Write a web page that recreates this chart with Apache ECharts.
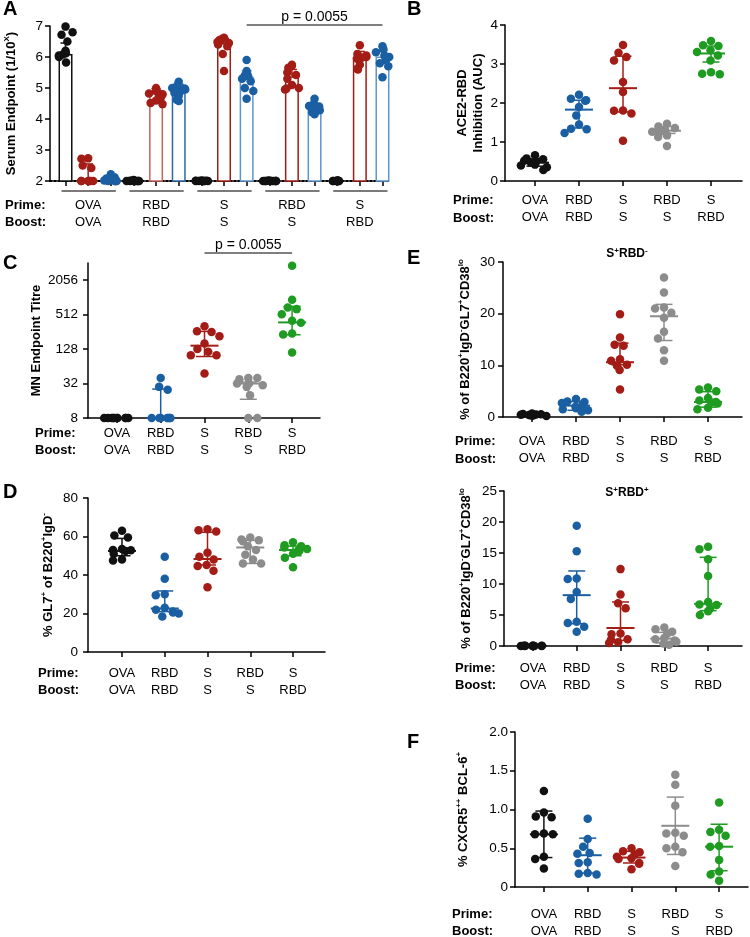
<!DOCTYPE html>
<html><head><meta charset="utf-8">
<script src="https://cdn.jsdelivr.net/npm/echarts@6/dist/echarts.min.js"></script>
<style>html,body{margin:0;padding:0;background:#fff}#c{width:750px;height:937px}</style>
</head><body><div id="c"></div>
<script>
const FONT = '"Liberation Sans", Arial, Helvetica, sans-serif';

// ---------- categories ----------
const primes = ['OVA', 'RBD', 'S', 'RBD', 'S'];
const boosts = ['OVA', 'RBD', 'S', 'S', 'RBD'];
const groupCats = ['OVA/OVA', 'RBD/RBD', 'S/S', 'RBD/S', 'S/RBD'];

// ---------- Panel A : serum endpoint (bars = mean, 3 per group) ----------
const aCats = ['g1-a','g1-b','g1-c','g2-a','g2-b','g2-c','g3-a','g3-b','g3-c','g4-a','g4-b','g4-c','g5-a','g5-b','g5-c'];
const aBars  = [6.1, 2.0, 2.05, 2.0, 4.84, 4.97, 2.0, 6.45, 5.37, 2.0, 5.38, 4.37, 2.0, 5.98, 6.02];
const aUpper = [6.45, 2.55, 2.12, 2.01, 4.98, 5.12, 2.01, 6.6, 5.55, 2.01, 5.6, 4.5, 2.01, 6.18, 6.2];
const aPoints = [
  [6.98, 6.8, 6.72, 6.5, 6.2, 6.12, 6.08, 6.05, 6.0, 5.82],
  [2.73, 2.72, 2.5, 2.42, 2.0, 2.0, 2.0, 2.0, 2.0, 2.0],
  [2.22, 2.12, 2.08, 2.05, 2.02, 2.0, 2.0, 2.0, 2.0, 2.0],
  [2.03, 2.02, 2.01, 2.0, 2.0, 2.0, 2.0, 2.0, 2.0, 2.0],
  [5.0, 4.9, 4.85, 4.82, 4.8, 4.75, 4.7, 4.6, 4.52, 4.48],
  [5.2, 5.1, 5.0, 4.98, 4.95, 4.9, 4.85, 4.75, 4.62, 4.58],
  [2.02, 2.01, 2.01, 2.0, 2.0, 2.0, 2.0, 2.0, 2.0, 2.0],
  [6.62, 6.58, 6.55, 6.52, 6.48, 6.45, 6.4, 6.35, 6.1, 5.55],
  [5.9, 5.55, 5.45, 5.4, 5.38, 5.3, 5.22, 5.0, 4.9, 4.65],
  [2.02, 2.01, 2.0, 2.0, 2.0, 2.0, 2.0, 2.0, 2.0, 2.0],
  [5.75, 5.72, 5.65, 5.5, 5.42, 5.3, 5.1, 5.0, 4.98, 4.95],
  [4.65, 4.5, 4.42, 4.4, 4.38, 4.35, 4.3, 4.28, 4.22, 4.15],
  [2.02, 2.01, 2.0, 2.0, 2.0, 2.0, 2.0, 2.0, 2.0, 2.0],
  [6.38, 6.1, 6.05, 6.0, 5.98, 5.95, 5.9, 5.75, 5.62, 5.6],
  [6.35, 6.25, 6.15, 6.05, 6.0, 5.95, 5.9, 5.8, 5.7, 5.35]
];
const aGroupSpans = [[0, 2], [3, 5], [6, 8], [9, 11], [12, 14]];
const aYTicks = [2, 7, 1];            // min, max, interval
const pValueText = 'p = 0.0055';
const aPBracket = [[8, 14]];
const cPBracket = [[2, 4]];

// ---------- Panel B : ACE2-RBD inhibition ----------
const bPoints = [
  [0.66, 0.58, 0.56, 0.52, 0.50, 0.48, 0.42, 0.40, 0.35, 0.28],
  [2.21, 2.11, 2.07, 2.06, 1.90, 1.68, 1.45, 1.34, 1.33, 1.23],
  [3.49, 3.29, 3.18, 3.09, 2.54, 2.28, 1.81, 1.80, 1.73, 1.03],
  [1.47, 1.40, 1.36, 1.30, 1.29, 1.27, 1.26, 1.17, 1.13, 0.90],
  [3.59, 3.48, 3.46, 3.35, 3.31, 3.22, 3.09, 2.79, 2.75, 2.74]
];
const bStats = [[0.47, 0.38, 0.56], [1.83, 1.36, 2.07], [2.38, 1.77, 3.2], [1.29, 1.22, 1.4], [3.27, 3.05, 3.46]];

// ---------- Panel C : MN endpoint titre (log2 axis) ----------
const cPoints = [
  [8, 8, 8, 8, 8, 8, 8, 8, 8, 8],
  [40, 28, 25, 8, 8, 8, 8, 8, 8, 8],
  [320, 262, 256, 215, 160, 128, 115, 100, 100, 48],
  [40, 40, 38, 32, 32, 30, 28, 20, 8, 8],
  [3660, 935, 680, 640, 520, 400, 370, 240, 230, 112]
];
const cStats = [[8, 8, 8], [8, 8, 25.6], [147, 95, 261], [32, 17, 34], [375, 228, 715]];
const cTickLabels = ['8', '32', '128', '512', '2056'];
const cTickTitres = [8, 32, 128, 512, 2048];

// ---------- Panel D : % GL7+ ----------
const dPoints = [
  [63, 60.5, 59.5, 53.5, 53, 52.8, 52.5, 51, 48, 47.5],
  [49.5, 38, 30, 29.5, 23, 22, 21, 20.5, 20, 18.5],
  [63.8, 63.3, 62.6, 51.5, 49.5, 48.1, 45.2, 44.7, 42.2, 33.6],
  [59.5, 58.5, 58, 57.5, 55, 53, 50.5, 48, 46, 46],
  [57, 55.5, 55, 54.3, 53.5, 53, 52.5, 51, 49, 44]
];
const dStats = [[52.5, 50, 59], [22.6, 21, 31.7], [48.3, 45.2, 62.2], [54.3, 46, 58], [53, 50, 55]];

// ---------- Panel E : S+RBD- and S+RBD+ ----------
const e1Points = [
  [0.7, 0.6, 0.55, 0.5, 0.45, 0.4, 0.35, 0.3, 0.3, 0.2],
  [3.5, 3.0, 2.9, 2.7, 2.4, 2.0, 1.7, 1.5, 1.3, 1.0],
  [19.9, 15.4, 14.0, 13.8, 11.2, 10.9, 10.1, 9.9, 9.1, 5.3],
  [27, 24.1, 21.2, 21, 20.2, 19.2, 16.5, 15.2, 12.9, 10.9],
  [5.7, 5.3, 5.0, 3.7, 3.2, 2.9, 2.8, 2.6, 1.8, 1.5]
];
const e1Stats = [[0.45, 0.3, 0.55], [2.2, 1.3, 3.0], [10.6, 10.1, 14.3], [19.5, 14.8, 21.8], [2.9, 1.9, 4.9]];
const e2Points = [
  [0.05, 0.04, 0.04, 0.03, 0.03, 0.02, 0.02, 0.02, 0.01, 0.01],
  [19.4, 15.3, 10.9, 10.8, 8.7, 7.6, 3.9, 3.7, 3.1, 2.3],
  [12.4, 8.3, 6.9, 6.1, 2.0, 1.9, 1.1, 1.0, 0.6, 0.5],
  [3.0, 2.7, 2.3, 2.0, 1.3, 1.1, 0.9, 0.7, 0.4, 0.2],
  [16.0, 15.6, 14.0, 11.3, 7.1, 6.7, 6.6, 6.0, 5.6, 5.0]
];
const e2Stats = [[0.02, 0.01, 0.04], [8.2, 3.6, 12.1], [2.9, 0.9, 7.1], [1.2, 0.5, 2.2], [6.8, 5.7, 14.3]];

// ---------- Panel F : % CXCR5++ BCL-6+ ----------
const fPoints = [
  [1.24, 0.96, 0.91, 0.90, 0.69, 0.68, 0.68, 0.39, 0.36, 0.24],
  [0.88, 0.62, 0.52, 0.44, 0.43, 0.32, 0.31, 0.18, 0.17, 0.16],
  [0.50, 0.46, 0.45, 0.42, 0.39, 0.37, 0.36, 0.31, 0.30, 0.23],
  [1.45, 1.32, 1.05, 0.70, 0.69, 0.66, 0.52, 0.50, 0.45, 0.27],
  [1.09, 0.74, 0.71, 0.66, 0.53, 0.52, 0.35, 0.20, 0.16, 0.08]
];
const fStats = [[0.68, 0.38, 0.98], [0.41, 0.18, 0.63], [0.38, 0.31, 0.46], [0.79, 0.42, 1.16], [0.52, 0.21, 0.81]];

// ---------- styles ----------
const BLACK = '#111111', BLUE = '#1b5fa3', RED = '#a31c16', GREY = '#8c8c8c', GREEN = '#1f9b22';
const groupColors = [BLACK, BLUE, RED, GREY, GREEN];
const aPointColors = [BLACK, RED, BLUE, BLACK, RED, BLUE, BLACK, RED, BLUE, BLACK, RED, BLUE, BLACK, RED, BLUE];
const aBarBorders = [BLACK, RED, BLUE, BLACK, '#c8625a', '#2a68aa', BLACK, RED, '#5b97cf', BLACK, RED, '#5b97cf', BLACK, RED, '#5b97cf'];
const LS = {color: '#000', width: 1.5};
const SUP = {fontSize: 8, fontWeight: 'bold', fontFamily: FONT, color: '#000', verticalAlign: 'top', lineHeight: 16};
const NAME = {fontSize: 13, fontWeight: 'bold', fontFamily: FONT, color: '#000', lineHeight: 16, rich: {sup: SUP}};
const DOT = 8.5;

const grids = [], xAxes = [], yAxes = [], series = [], graphics = [];

function addPanel(o) {
  const gF = grids.length;
  grids.push({left: o.fl, top: o.top, width: o.fw, height: o.h, containLabel: false, outerBoundsMode: 'none'});
  grids.push({left: o.dl, top: o.top, width: o.dw, height: o.h, containLabel: false, outerBoundsMode: 'none'});
  const gD = gF + 1;
  xAxes.push({gridIndex: gF, type: 'value', min: 0, max: 1,
    axisLine: {show: true, onZero: false, lineStyle: {color: '#000', width: o.xw || 1.5, type: o.xType || 'solid'}},
    axisTick: {show: false}, axisLabel: {show: false}, splitLine: {show: false}});
  const yAx = {gridIndex: gF, type: 'value', min: o.min, max: o.max,
    axisLine: {show: true, onZero: false, lineStyle: LS},
    axisTick: {show: true, length: 5, lineStyle: LS},
    axisLabel: {color: '#000', fontSize: 13.5, fontFamily: FONT, margin: o.lm},
    splitLine: {show: false},
    name: o.name, nameLocation: 'middle', nameRotate: 90, nameGap: o.ng, nameTextStyle: NAME};
  if (o.interval != null) yAx.interval = o.interval;
  if (o.fmt) yAx.axisLabel.formatter = o.fmt;
  if (o.custom) { yAx.axisLabel.customValues = o.custom; yAx.axisTick.customValues = o.custom; }
  yAxes.push(yAx);
  xAxes.push({gridIndex: gD, type: 'category', data: o.cats, boundaryGap: true,
    jitter: o.jitter, jitterOverlap: false, jitterMargin: 0.5,
    axisLine: {show: false},
    axisTick: {show: true, alignWithLabel: true, interval: 0, length: 5, lineStyle: LS},
    axisLabel: {show: o.labels !== false, interval: 0, color: '#000', fontSize: 13, fontFamily: FONT,
      lineHeight: 17.5, margin: o.xm, formatter: (v, i) => primes[i] + '\n' + boosts[i]},
    splitLine: {show: false}});
  yAxes.push({gridIndex: gD, type: 'value', min: o.min, max: o.max, show: false});
  return {x: xAxes.length - 1, y: yAxes.length - 1, gD};
}

function errRender(colors, medHalf, capHalf) {
  return function (params, api) {
    const i = api.value(0);
    const pm = api.coord([i, api.value(1)]);
    const pl = api.coord([i, api.value(2)]);
    const ph = api.coord([i, api.value(3)]);
    const c = colors[i];
    const s = {stroke: c, lineWidth: 1.5};
    return {type: 'group', children: [
      {type: 'line', shape: {x1: pl[0], y1: pl[1], x2: ph[0], y2: ph[1]}, style: s},
      {type: 'line', shape: {x1: pl[0] - capHalf, y1: pl[1], x2: pl[0] + capHalf, y2: pl[1]}, style: s},
      {type: 'line', shape: {x1: ph[0] - capHalf, y1: ph[1], x2: ph[0] + capHalf, y2: ph[1]}, style: s},
      {type: 'line', shape: {x1: pm[0] - medHalf, y1: pm[1], x2: pm[0] + medHalf, y2: pm[1]}, style: {stroke: c, lineWidth: 2}}
    ]};
  };
}

function addDots(ax, points, stats, tf) {
  const f = tf || (v => v);
  const data = [];
  points.forEach((arr, i) => arr.forEach(v => data.push({value: [i, f(v)], itemStyle: {color: groupColors[i], opacity: 1}})));
  series.push({type: 'scatter', xAxisIndex: ax.x, yAxisIndex: ax.y, symbolSize: DOT, z: 2, itemStyle: {opacity: 1}, data});
  series.push({type: 'custom', xAxisIndex: ax.x, yAxisIndex: ax.y, z: 3, clip: false,
    renderItem: errRender(groupColors, 14, 8.5),
    data: stats.map((s, i) => [i, f(s[0]), f(s[1]), f(s[2])])});
}

function pRender(yTop, lift) {
  return function (params, api) {
    const a = api.coord([api.value(0), yTop]);
    const b = api.coord([api.value(1), yTop]);
    const y = a[1] - lift;
    return {type: 'group', children: [
      {type: 'line', shape: {x1: a[0], y1: y, x2: b[0], y2: y}, style: {stroke: '#000', lineWidth: 1.2}},
      {type: 'text', x: (a[0] + b[0]) / 2, y: y - 1, style: {text: pValueText, font: '14px ' + FONT, fill: '#000', align: 'center', verticalAlign: 'bottom'}}
    ]};
  };
}

// ===== Panel A =====
const A = addPanel({fl: 50, fw: 340, dl: 54.2, dw: 339.6, top: 26, h: 155, min: aYTicks[0], max: aYTicks[1], interval: aYTicks[2],
  lm: 7, ng: 31, name: 'Serum Endpoint (1/10{sup|X})', cats: aCats, jitter: 18, labels: false, xm: 15, xType: 'dotted', xw: 2});
xAxes.push({gridIndex: A.gD, type: 'category', data: groupCats, position: 'bottom', boundaryGap: true,
  axisLine: {show: false}, axisTick: {show: false}, splitLine: {show: false},
  axisLabel: {interval: 0, color: '#000', fontSize: 13, fontFamily: FONT, lineHeight: 17.5, margin: 15.25,
    formatter: (v, i) => primes[i] + '\n' + boosts[i]}});
series.push({type: 'bar', xAxisIndex: A.x, yAxisIndex: A.y, barWidth: 14, z: 1,
  data: aBars.map((v, i) => ({value: v, itemStyle: {color: '#ffffff', borderColor: aBarBorders[i], borderWidth: 1.5}}))});
series.push({type: 'custom', xAxisIndex: A.x, yAxisIndex: A.y, z: 1, clip: false,
  renderItem: function (params, api) {
    const i = api.value(0);
    const p0 = api.coord([i, api.value(1)]);
    const p1 = api.coord([i, api.value(2)]);
    const s = {stroke: aBarBorders[i], lineWidth: 1.5};
    return {type: 'group', children: [
      {type: 'line', shape: {x1: p0[0], y1: p0[1], x2: p1[0], y2: p1[1]}, style: s},
      {type: 'line', shape: {x1: p1[0] - 5, y1: p1[1], x2: p1[0] + 5, y2: p1[1]}, style: s}]};
  },
  data: aBars.map((v, i) => [i, v, aUpper[i]])});
(function () {
  const data = [];
  aPoints.forEach((arr, i) => arr.forEach(v => data.push({value: [i, v], itemStyle: {color: aPointColors[i], opacity: 1}})));
  series.push({type: 'scatter', xAxisIndex: A.x, yAxisIndex: A.y, symbolSize: DOT, z: 2, itemStyle: {opacity: 1}, data});
})();
series.push({type: 'custom', xAxisIndex: A.x, yAxisIndex: A.y, z: 3, clip: false,
  renderItem: function (params, api) {
    const a = api.coord([api.value(0), aYTicks[0]]);
    const b = api.coord([api.value(1), aYTicks[0]]);
    const y = a[1] + 10;
    return {type: 'line', shape: {x1: a[0] - 4, y1: y, x2: b[0] + 5, y2: y}, style: {stroke: '#7a7a7a', lineWidth: 2}};
  },
  data: aGroupSpans});
series.push({type: 'custom', xAxisIndex: A.x, yAxisIndex: A.y, z: 3, clip: false,
  renderItem: pRender(aYTicks[1], 1), data: aPBracket});

// ===== Panel B =====
const B = addPanel({fl: 505, fw: 237, dl: 513, dw: 220, top: 25, h: 156, min: 0, max: 4, interval: 1,
  lm: 7, ng: 18, name: 'ACE2-RBD\nInhibition (AUC)', cats: groupCats, jitter: 30, xm: 10.25});
addDots(B, bPoints, bStats);

// ===== Panel C =====
const cf = v => Math.log2(v / 2);
const cCustom = cTickTitres.map(cf);
const C = addPanel({fl: 88, fw: 232, dl: 95, dw: 219, top: 263, h: 155, min: cf(8), max: 11,
  custom: cCustom, fmt: v => cTickLabels[cCustom.indexOf(v)] || '',
  lm: 10, ng: 39, name: 'MN Endpoint Titre', cats: groupCats, jitter: 30, xm: 6.25});
addDots(C, cPoints, cStats, cf);
series.push({type: 'custom', xAxisIndex: C.x, yAxisIndex: C.y, z: 3, clip: false,
  renderItem: pRender(11, 10), data: cPBracket});

// ===== Panel D =====
const D = addPanel({fl: 88, fw: 237, dl: 100.6, dw: 213.8, top: 498, h: 154, min: 0, max: 80, interval: 20,
  lm: 10, ng: 32, name: '% GL7{sup|+} of B220{sup|+}IgD{sup|-}', cats: groupCats, jitter: 30, xm: 12.25});
addDots(D, dPoints, dStats);

// ===== Panel E (top) =====
const E1 = addPanel({fl: 503, fw: 239, dl: 510, dw: 220, top: 262, h: 155, min: 0, max: 30, interval: 10,
  lm: 8, ng: 30, name: '% of B220{sup|+}IgD{sup|-}GL7{sup|+}CD38{sup|lo}', cats: groupCats, jitter: 30, xm: 15.25});
addDots(E1, e1Points, e1Stats);

// ===== Panel E (bottom) =====
const E2 = addPanel({fl: 504, fw: 238, dl: 511, dw: 219, top: 491, h: 155, min: 0, max: 25, interval: 5,
  lm: 7, ng: 30, name: '% of B220{sup|+}IgD{sup|-}GL7{sup|+}CD38{sup|lo}', cats: groupCats, jitter: 30, xm: 13.25});
addDots(E2, e2Points, e2Stats);

// ===== Panel F =====
const F = addPanel({fl: 515, fw: 233, dl: 522, dw: 219, top: 732, h: 155, min: 0, max: 2, interval: 0.5,
  fmt: v => (v === 0 ? '0' : v.toFixed(1)),
  lm: 7, ng: 44, name: '% CXCR5{sup|++} BCL-6{sup|+}', cats: groupCats, jitter: 30, xm: 18.25});
addDots(F, fPoints, fStats);

// ===== text annotations =====
function txt(x, y, text, font, align, rich) {
  const st = {text, font, fill: '#000', align: align || 'left', textAlign: align || 'left', verticalAlign: 'middle', textVerticalAlign: 'middle'};
  if (rich) st.rich = rich;
  graphics.push({type: 'text', x, y, z: 10, style: st});
}
const LETTER = 'bold 20px ' + FONT;
txt(3, 9, 'A', LETTER); txt(407, 9, 'B', LETTER); txt(3, 263, 'C', LETTER);
txt(3, 492, 'D', LETTER); txt(407, 258, 'E', LETTER); txt(407, 742, 'F', LETTER);
const PB = 'bold 13px ' + FONT;
[[5, 205, 222], [453, 200, 218], [35, 433, 450], [38, 673, 690], [455, 441, 459], [455, 668, 685], [452, 914, 931]]
  .forEach(r => { txt(r[0], r[1], 'Prime:', PB); txt(r[0], r[2], 'Boost:', PB); });
const TSUP = {sup: {fontSize: 8, fontWeight: 'bold', fontFamily: FONT, fill: '#000', color: '#000', verticalAlign: 'top', lineHeight: 14}};
txt(627, 254, 'S{sup|+}RBD{sup|-}', 'bold 12px ' + FONT, 'center', TSUP);
txt(627, 493, 'S{sup|+}RBD{sup|+}', 'bold 12px ' + FONT, 'center', TSUP);

const chart = echarts.init(document.getElementById('c'), null, {renderer: 'canvas', width: 750, height: 937});
chart.setOption({
  backgroundColor: '#ffffff',
  animation: false,
  textStyle: {fontFamily: FONT},
  grid: grids, xAxis: xAxes, yAxis: yAxes, series: series, graphic: graphics
});
</script>
</body></html>
